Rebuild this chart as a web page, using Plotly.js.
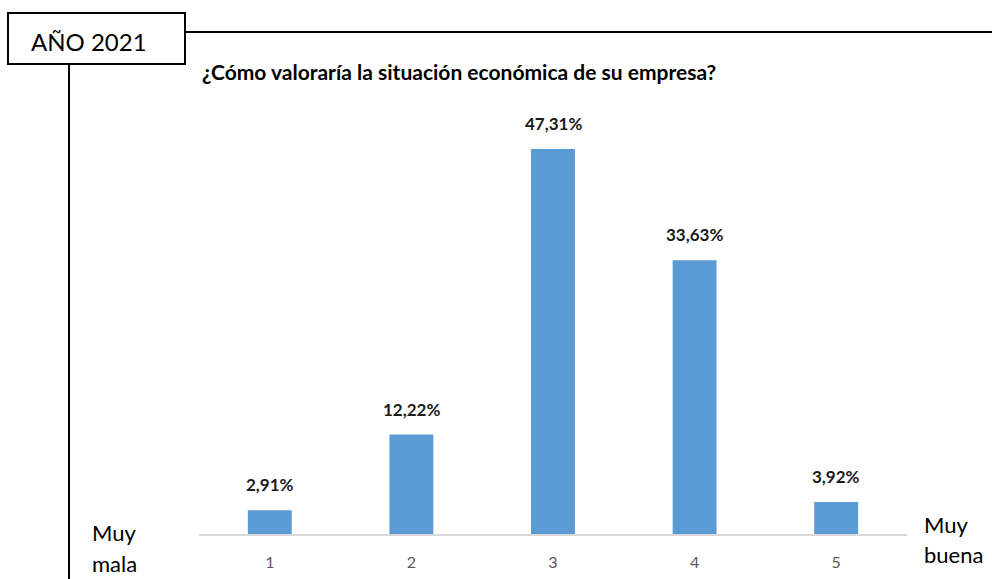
<!DOCTYPE html>
<html>
<head>
<meta charset="utf-8">
<script src="https://cdn.plot.ly/plotly-3.0.1.min.js"></script>
<style>
  html, body { margin: 0; padding: 0; background: #fff; }
  #chart { width: 992px; height: 579px; }
</style>
</head>
<body>
<div id="chart"></div>
<script>
const categories = ['1', '2', '3', '4', '5'];
const values = [2.91, 12.22, 47.31, 33.63, 3.92];
const chartTitle = '¿Cómo valoraría la situación económica de su empresa?';
const yearLabel = 'AÑO 2021';
const lowLabel = ['Muy', 'mala'];
const highLabel = ['Muy', 'buena'];

// plot area in pixels
const W = 992, H = 579;
const plotL = 199, plotR = 907, plotT = 110, plotB = 534;
const px = x => (x - plotL) / (plotR - plotL);
const py = y => (plotB - y) / (plotB - plotT);

const font = 'Lato, Carlito, Calibri, sans-serif';

const barTrace = {
  type: 'bar',
  x: categories,
  y: values,
  width: 0.31,
  marker: { color: '#5b9bd5' },
  hoverinfo: 'x+y'
};

// category axis: annotations placed by category index
const valueLabels = values.map((v, i) => ({
  x: i,
  y: v,
  xref: 'x',
  yref: 'y',
  yanchor: 'bottom',
  yshift: 13,
  showarrow: false,
  text: '<b>' + v.toFixed(2).replace('.', ',') + '%</b>',
  font: { family: font, size: 17, color: '#1a1a1a' }
}));

const sideText = (txt, x, y) => ({
  xref: 'paper', yref: 'paper', x: px(x), y: py(y),
  xanchor: 'left', yanchor: 'middle', showarrow: false,
  text: txt, font: { family: font, size: 22, color: '#000' }
});

const line = { color: '#000', width: 2 };

const layout = {
  width: W,
  height: H,
  margin: { l: plotL, r: W - plotR, t: plotT, b: H - plotB },
  paper_bgcolor: '#fff',
  plot_bgcolor: '#fff',
  showlegend: false,
  title: {
    text: '<b>' + chartTitle + '</b>',
    font: { family: font, size: 21, color: '#000' },
    xref: 'paper',
    x: px(202),
    xanchor: 'left',
    yref: 'container',
    y: 1 - 73 / H,
    yanchor: 'middle'
  },
  xaxis: {
    type: 'category',
    range: [-0.5, 4.5],
    showline: true,
    linecolor: '#d9d9d9',
    linewidth: 1.5,
    ticks: '',
    showgrid: false,
    zeroline: false,
    tickfont: { family: font, size: 16, color: '#595959' },
    ticklabelstandoff: 13
  },
  yaxis: {
    visible: false,
    range: [0, 52.1],
    fixedrange: true
  },
  shapes: [
    { type: 'rect', xref: 'paper', yref: 'paper', x0: px(8), x1: px(185), y0: py(13), y1: py(64), line: line },
    { type: 'line', xref: 'paper', yref: 'paper', x0: px(185), x1: px(992), y0: py(32), y1: py(32), line: line },
    { type: 'line', xref: 'paper', yref: 'paper', x0: px(69), x1: px(69), y0: py(64), y1: py(579), line: line }
  ],
  annotations: [
    ...valueLabels,
    {
      xref: 'paper', yref: 'paper', x: px(89), y: py(41),
      xanchor: 'center', yanchor: 'middle', showarrow: false,
      text: yearLabel, font: { family: font, size: 24, color: '#000' }
    },
    sideText(lowLabel[0], 90, 532),
    sideText(lowLabel[1], 90, 563),
    sideText(highLabel[0], 922, 524),
    sideText(highLabel[1], 922, 554)
  ]
};

Plotly.newPlot('chart', [barTrace], layout, { displayModeBar: false, staticPlot: true });
</script>
</body>
</html>
